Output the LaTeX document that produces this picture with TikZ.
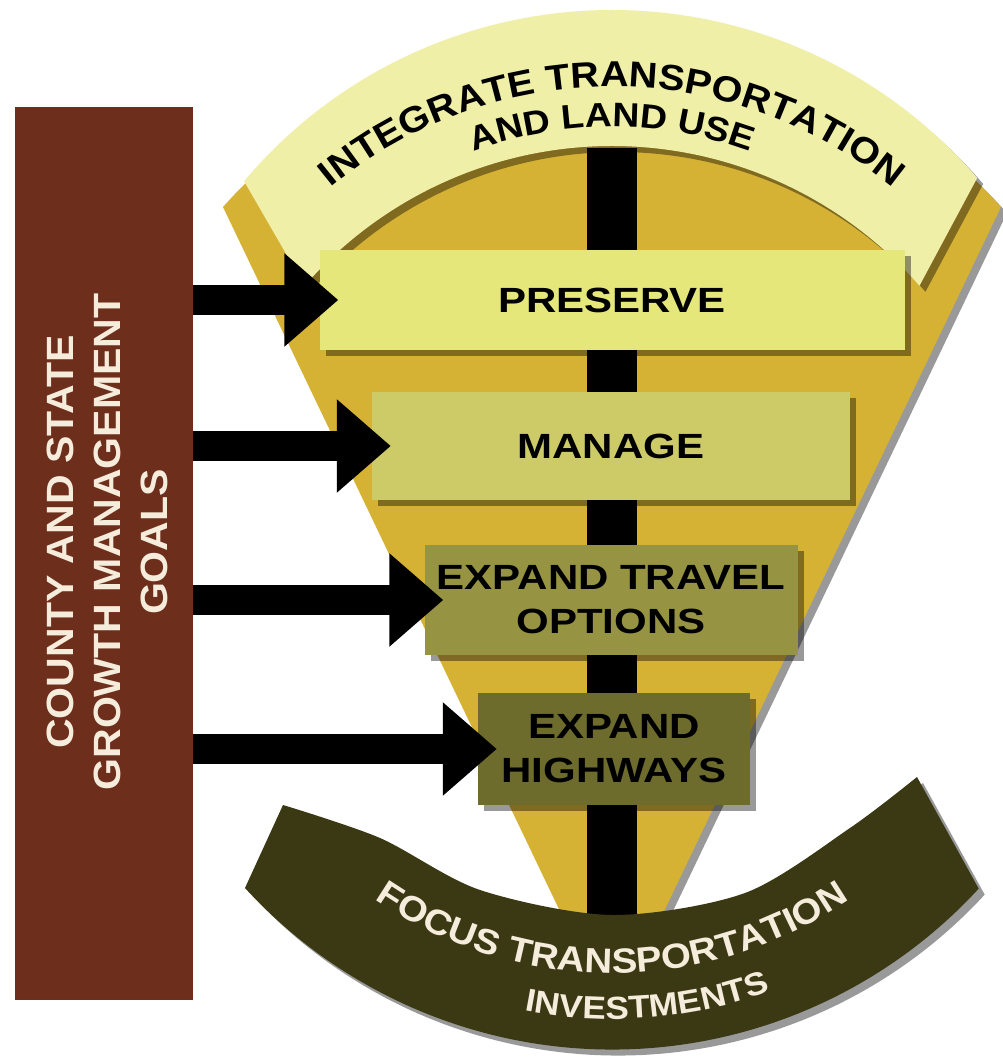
\documentclass[tikz,border=0pt]{standalone}
\usepackage{fontspec}
\setmainfont{Liberation Sans}
\newfontfamily\widefont{Liberation Sans}[FakeStretch=1.2]
\newfontfamily\arcfont{Liberation Sans}[FakeStretch=1.1]
\newfontfamily\goalfont{Liberation Sans}[FakeStretch=1.08]
\usetikzlibrary{arrows.meta,shadows,decorations.text}
\definecolor{goalbrown}{RGB}{110,46,28}
\definecolor{goalcream}{RGB}{245,236,220}
\definecolor{funnelgold}{RGB}{214,178,52}
\definecolor{bandlight}{RGB}{240,239,168}
\definecolor{bandolive}{RGB}{58,57,20}
\definecolor{preservefill}{RGB}{230,231,122}
\definecolor{managefill}{RGB}{204,203,104}
\definecolor{travelfill}{RGB}{150,148,66}
\definecolor{highwayfill}{RGB}{110,108,45}
\newcommand\toptext{\arcfont\bfseries\fontsize{36}{36}\selectfont\color{black}}
\newcommand\topsmall{\arcfont\bfseries\fontsize{34}{34}\selectfont\color{black}}
\newcommand\bottext{\arcfont\bfseries\fontsize{35}{35}\selectfont\color{goalcream}}
\newcommand\botsmall{\arcfont\bfseries\fontsize{32}{32}\selectfont\color{goalcream}}
\begin{document}
\begin{tikzpicture}[x=1pt,y=1pt]
\tikzstyle{every node}+=[inner sep=0pt]
\tikzstyle{lift}=[drop shadow={shadow xshift=6pt,shadow yshift=-6pt,opacity=0.4,fill=black}]
\tikzstyle{stage}=[lift,align=center,text=black,font=\widefont\bfseries\fontsize{35}{44}\selectfont]
\tikzstyle{goalbox}=[fill=goalbrown,minimum width=178pt,minimum height=893pt]
\tikzstyle{goaltext}=[align=center,text=goalcream,font=\goalfont\bfseries\fontsize{38}{47}\selectfont]
\tikzstyle{goalarrow}=[line width=30pt,-{Triangle[length=54pt,width=90pt]}]
\useasboundingbox (0,0) rectangle (1003,1057);
\fill [white] (0,0) rectangle (1003,1057);
\fill [funnelgold,lift] (612,37) -- (223,850) arc [start angle=138.3,end angle=41.7,radius=521] -- cycle;
\fill [black] (587,130) rectangle (637,909);
\fill [bandlight,lift] ([shift={(612,566)}]139.9:481) arc [start angle=139.9,end angle=40.6,radius=481] -- ([shift={(612,503)}]41.1:408) arc [start angle=41.1,end angle=138.9,radius=408] -- cycle;
\path [decorate,decoration={text along path,text align=center,text={|\toptext|INTEGRATE TRANSPORTATION}}] ([shift={(612,527)}]150:443) arc [start angle=150,end angle=30,radius=443];
\path [decorate,decoration={text along path,text align=center,text={|\topsmall|AND LAND USE}}] ([shift={(612,527)}]150:403) arc [start angle=150,end angle=30,radius=403];
\fill [bandolive,lift] (245,169) arc [start angle=222.5,end angle=317.4,radius=498] -- plot [smooth] coordinates {(917,280) (850,229) (745,164) (612,142) (480,167) (380,219) (283,252)} -- cycle;
\path [decorate,decoration={text along path,text align=center,text={|\bottext|FOCUS TRANSPORTATION}}] ([shift={(612,505)}]203:421) arc [start angle=203,end angle=337,radius=421];
\path [decorate,decoration={text along path,text align=center,text={|\botsmall|INVESTMENTS}}] ([shift={(612,505)}]204.5:467) arc [start angle=204.5,end angle=344.5,radius=467];
\node [stage,fill=preservefill,minimum width=585pt,minimum height=100pt] (preserve) at (612,757) {PRESERVE};
\node [stage,fill=managefill,minimum width=478pt,minimum height=108pt] (manage) at (611,611) {MANAGE};
\node [stage,fill=travelfill,minimum width=373pt,minimum height=110pt] (travel) at (611,457) {EXPAND TRAVEL\\OPTIONS};
\node [stage,fill=highwayfill,minimum width=272pt,minimum height=112pt] (highways) at (614,308) {EXPAND\\HIGHWAYS};
\node [goalbox] (goals) at (104,503.5) {};
\node [goaltext,rotate=90] (goalslabel) at (107,515) {COUNTY AND STATE\\GROWTH MANAGEMENT\\GOALS};
\draw [goalarrow] (goals.east |- preserve) -- ([xshift=19pt]preserve.west);
\draw [goalarrow] (goals.east |- manage) -- ([xshift=19pt]manage.west);
\draw [goalarrow] (goals.east |- travel) -- ([xshift=19pt]travel.west);
\draw [goalarrow] (goals.east |- highways) -- ([xshift=19pt]highways.west);
\end{tikzpicture}
\end{document}
